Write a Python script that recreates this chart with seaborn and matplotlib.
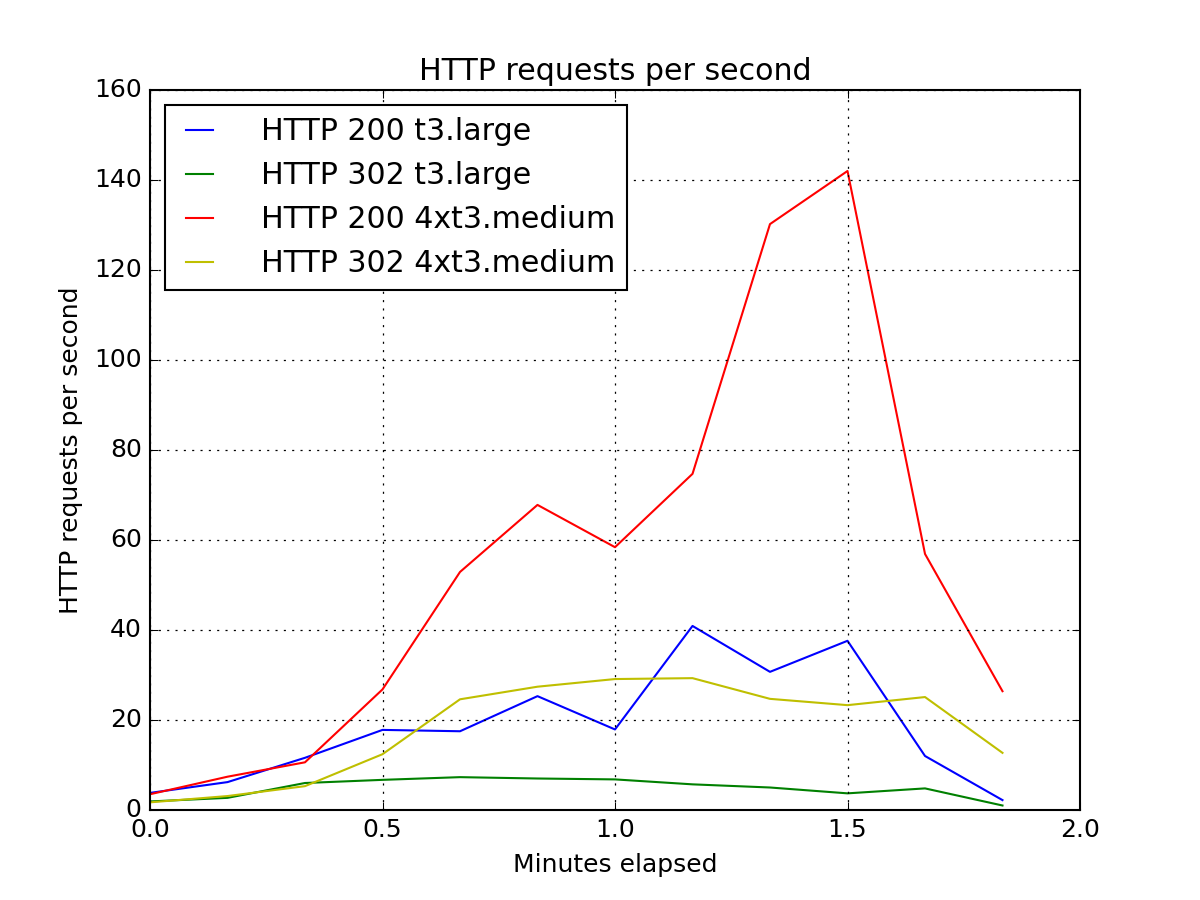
import matplotlib
matplotlib.use("Agg")
import matplotlib.pyplot as plt
import seaborn as sns
import pandas as pd

minutes = [0.0, 0.1667, 0.3333, 0.5, 0.6667, 0.8333, 1.0, 1.1667, 1.3333, 1.5, 1.6667, 1.8333]
http200_t3large = [3.8, 6.2, 11.6, 17.8, 17.5, 25.3, 17.9, 40.9, 30.7, 37.6, 12.0, 2.2]
http302_t3large = [1.9, 2.7, 6.0, 6.7, 7.3, 7.0, 6.8, 5.7, 5.0, 3.7, 4.8, 1.0]
http200_4xmedium = [3.5, 7.4, 10.6, 26.8, 52.9, 67.8, 58.4, 74.7, 130.2, 142.0, 56.9, 26.4]
http302_4xmedium = [1.7, 3.1, 5.3, 12.4, 24.6, 27.4, 29.1, 29.3, 24.7, 23.3, 25.1, 12.7]

series_names = ["HTTP 200 t3.large", "HTTP 302 t3.large", "HTTP 200 4xt3.medium", "HTTP 302 4xt3.medium"]
series_values = [http200_t3large, http302_t3large, http200_4xmedium, http302_4xmedium]
colors = [(0, 0, 1), (0, 0.5, 0), (1, 0, 0), (0.75, 0.75, 0)]

rows = []
for name, vals in zip(series_names, series_values):
    for m, v in zip(minutes, vals):
        rows.append({"minutes": m, "rps": v, "series": name})
df = pd.DataFrame(rows)

plt.style.use("classic")
plt.rcParams["font.family"] = ["DejaVu Sans"]

fig = plt.figure(figsize=(8, 6), dpi=150, facecolor="white")
ax = fig.add_axes([0.125, 0.1, 0.775, 0.8])

sns.lineplot(data=df, x="minutes", y="rps", hue="series", hue_order=series_names,
             palette=colors, estimator=None, sort=False, linewidth=1.0, ax=ax)

ax.set_xlim(0, 2.0)
ax.set_ylim(0, 160)
ax.set_xticks([0.0, 0.5, 1.0, 1.5, 2.0])
ax.set_yticks([0, 20, 40, 60, 80, 100, 120, 140, 160])
ax.grid(True, color="k", linestyle=":", linewidth=0.6)
ax.set_xlabel("Minutes elapsed", fontsize=12)
ax.set_ylabel("HTTP requests per second", fontsize=12)
ax.set_title("HTTP requests per second", fontsize=14.4)
ax.tick_params(labelsize=12)

handles, labels = ax.get_legend_handles_labels()
leg = ax.legend(handles, labels, loc="upper left", fontsize=14.4, handlelength=1.5,
                handletextpad=1.3, labelspacing=0.5, borderpad=0.4, fancybox=False)
leg.get_frame().set_edgecolor("black")

fig.savefig("out.png", dpi=150, facecolor="white")
